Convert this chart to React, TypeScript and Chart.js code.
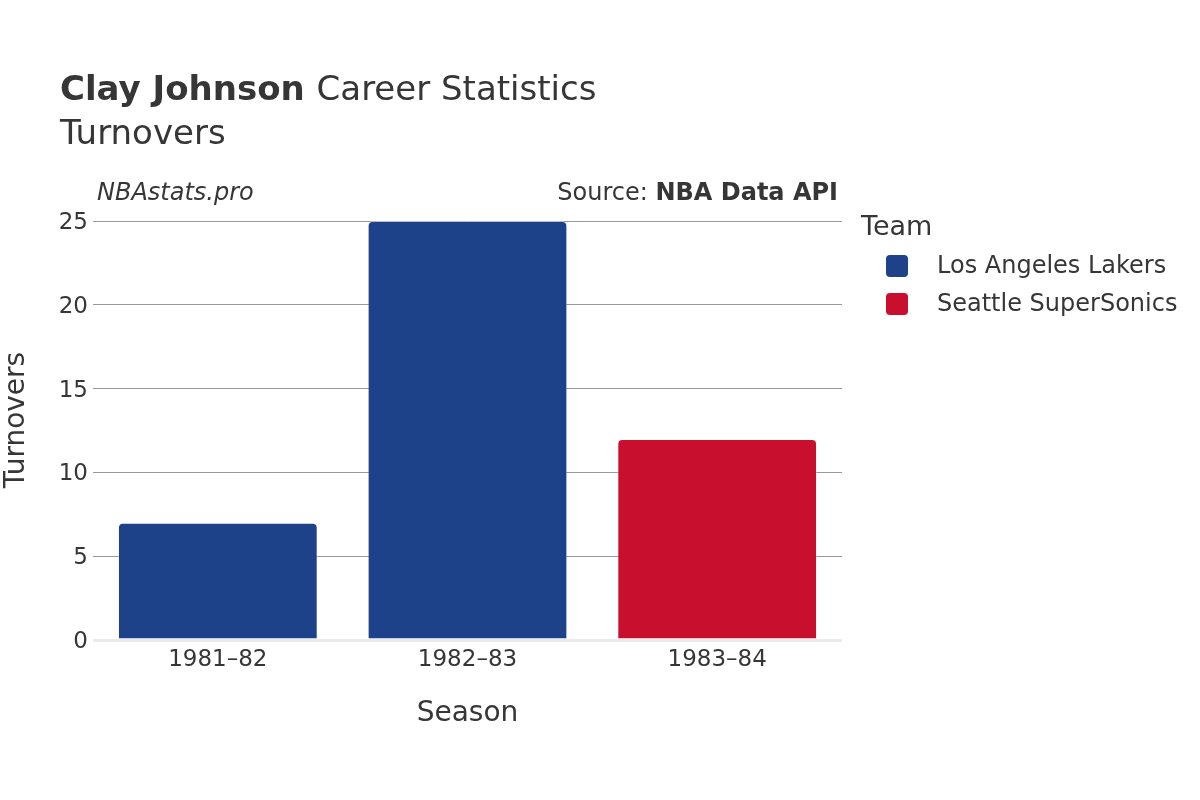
import React, { useEffect, useRef } from "react";
import { Chart, registerables } from "chart.js";

Chart.register(...registerables);

const seasons = ["1981–82", "1982–83", "1983–84"];
const teams = ["Los Angeles Lakers", "Seattle SuperSonics"];
const teamColors = ["#1d428a", "#c8102e"];
const lakersTurnovers = [7, 25, null];
const sonicsTurnovers = [null, null, 12];
const yTicks = [0, 5, 10, 15, 20, 25];

const FONT = "'DejaVu Sans', sans-serif";
const TEXT = "#363636";

const headerPlugin = {
  id: "header",
  afterDraw(chart: any) {
    const ctx = chart.ctx;
    ctx.save();
    ctx.fillStyle = TEXT;
    ctx.textBaseline = "alphabetic";
    ctx.textAlign = "left";
    ctx.font = `bold 34px ${FONT}`;
    const bold = "Clay Johnson";
    ctx.fillText(bold, 60, 100);
    const w = ctx.measureText(bold + " ").width;
    ctx.font = `34px ${FONT}`;
    ctx.fillText("Career Statistics", 60 + w, 100);
    ctx.fillText("Turnovers", 60, 144);

    ctx.font = `italic 24px ${FONT}`;
    ctx.fillText("NBAstats.pro", 97, 200);

    ctx.textAlign = "right";
    ctx.font = `bold 24px ${FONT}`;
    const src = "NBA Data API";
    ctx.fillText(src, 838, 200);
    const sw = ctx.measureText(src).width;
    ctx.font = `24px ${FONT}`;
    ctx.fillText("Source: ", 838 - sw, 200);

    // y-axis title
    ctx.save();
    ctx.translate(17, 420);
    ctx.rotate(-Math.PI / 2);
    ctx.textAlign = "center";
    ctx.textBaseline = "middle";
    ctx.font = `28px ${FONT}`;
    ctx.fillText("Turnovers", 0, 0);
    ctx.restore();

    // legend
    ctx.textAlign = "left";
    ctx.textBaseline = "middle";
    ctx.font = `27px ${FONT}`;
    ctx.fillText("Team", 861, 228);
    ctx.font = `24px ${FONT}`;
    teams.forEach((t, i) => {
      const cy = 266 + i * 38;
      ctx.fillStyle = teamColors[i];
      ctx.beginPath();
      (ctx as any).roundRect(886, cy - 11, 22, 22, 4);
      ctx.fill();
      ctx.fillStyle = TEXT;
      ctx.fillText(t, 937, cy + 1);
    });
    ctx.restore();
  },
};

export default function App() {
  const ref = useRef<HTMLCanvasElement | null>(null);
  useEffect(() => {
    if (!ref.current) return;
    const chart = new Chart(ref.current, {
      type: "bar",
      data: {
        labels: seasons,
        datasets: [
          {
            label: teams[0],
            data: lakersTurnovers,
            backgroundColor: teamColors[0],
            borderColor: "rgba(255,255,255,0.35)",
            borderWidth: 1,
            borderRadius: 5,
          },
          {
            label: teams[1],
            data: sonicsTurnovers,
            backgroundColor: teamColors[1],
            borderColor: "rgba(255,255,255,0.35)",
            borderWidth: 1,
            borderRadius: 5,
          },
        ],
      },
      options: {
        responsive: false,
        animation: false,
        events: [],
        layout: { padding: { top: 221, right: 358, bottom: 65, left: 0 } },
        datasets: {
          bar: { grouped: false, barPercentage: 0.8, categoryPercentage: 1, skipNull: true },
        } as any,
        plugins: {
          legend: { display: false },
          title: { display: false },
          tooltip: { enabled: false },
        },
        scales: {
          x: {
            grid: { display: false },
            border: { display: false },
            ticks: {
              color: TEXT,
              font: { family: FONT, size: 23 },
              padding: -2,
              maxRotation: 0,
            },
            title: {
              display: true,
              text: "Season",
              color: TEXT,
              font: { family: FONT, size: 28 },
              padding: { top: 4, bottom: 4 },
            },
            afterFit: (s: any) => {
              s.height = 95;
            },
          },
          y: {
            min: 0,
            max: 25,
            afterBuildTicks: (s: any) => {
              s.ticks = yTicks.map((v) => ({ value: v }));
            },
            grid: {
              drawTicks: false,
              color: (c: any) => (c.tick && c.tick.value === 0 ? "#ebebeb" : "#999999"),
              lineWidth: (c: any) => (c.tick && c.tick.value === 0 ? 3 : 1),
            },
            border: { display: false },
            ticks: {
              color: TEXT,
              font: { family: FONT, size: 23 },
              padding: 5,
              labelOffset: 2,
            },
            title: { display: false },
            afterFit: (s: any) => {
              s.width = 93;
            },
          },
        },
      },
      plugins: [headerPlugin],
    });
    return () => chart.destroy();
  }, []);
  return (
    <div style={{ position: "absolute", left: 0, top: 0, width: 1200, height: 800, background: "#fff" }}>
      <canvas ref={ref} width={1200} height={800} />
    </div>
  );
}
